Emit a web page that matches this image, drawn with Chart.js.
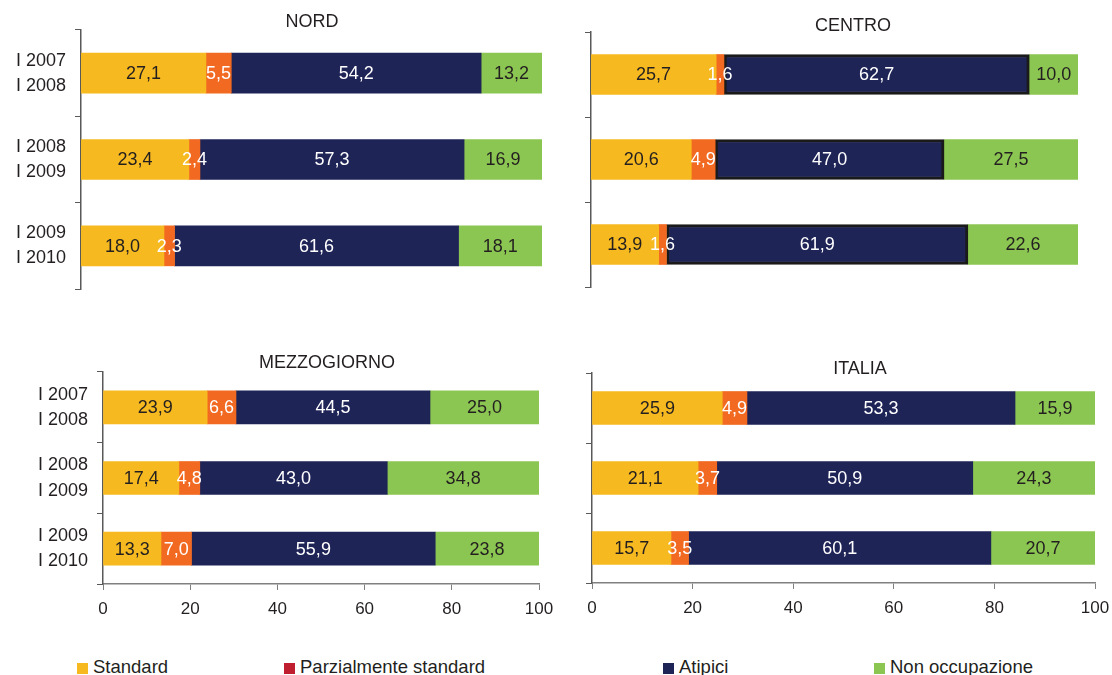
<!DOCTYPE html>
<html lang="it">
<head>
<meta charset="UTF-8">
<title>Esiti occupazionali per ripartizione</title>
<script src="https://cdn.jsdelivr.net/npm/chart.js"></script>
<style>
  body { margin: 0; background: #fff; font-family: 'Liberation Sans', Arial, sans-serif; }
  #wrap { position: relative; width: 1112px; height: 675px; overflow: hidden; }
  .panel { position: absolute; }
  .title { position: absolute; font-size: 18px; color: #231f20; transform: translate(-50%, -50%); white-space: nowrap; }
  .legend-item { position: absolute; top: 656px; font-size: 18.5px; color: #231f20; white-space: nowrap; line-height: 21px; }
  .legend-item span { display: inline-block; width: 11px; height: 11px; margin-right: 5px; vertical-align: -1px; }
</style>
</head>
<body>
<div id="wrap"></div>

<script>
// --- data ---
const categories = [['I 2007', 'I 2008'], ['I 2008', 'I 2009'], ['I 2009', 'I 2010']];
const seriesNames = ['Standard', 'Parzialmente standard', 'Atipici', 'Non occupazione'];
const xTicks = [0, 20, 40, 60, 80, 100];

const nordStandard = [27.1, 23.4, 18.0];
const nordParziale = [5.5, 2.4, 2.3];
const nordAtipici  = [54.2, 57.3, 61.6];
const nordNonOcc   = [13.2, 16.9, 18.1];

const centroStandard = [25.7, 20.6, 13.9];
const centroParziale = [1.6, 4.9, 1.6];
const centroAtipici  = [62.7, 47.0, 61.9];
const centroNonOcc   = [10.0, 27.5, 22.6];

const mezzStandard = [23.9, 17.4, 13.3];
const mezzParziale = [6.6, 4.8, 7.0];
const mezzAtipici  = [44.5, 43.0, 55.9];
const mezzNonOcc   = [25.0, 34.8, 23.8];

const italiaStandard = [25.9, 21.1, 15.7];
const italiaParziale = [4.9, 3.7, 3.5];
const italiaAtipici  = [53.3, 50.9, 60.1];
const italiaNonOcc   = [15.9, 24.3, 20.7];

// --- styles ---
const barColors = ['#f6b91f', '#f26a21', '#1f2457', '#8cc652'];
const legendColors = ['#f6b91f', '#be1e2d', '#1f2457', '#8cc652'];
const labelColors = ['#231f20', '#ffffff', '#ffffff', '#231f20'];
const FONT = "'Liberation Sans', Arial, sans-serif";

Chart.defaults.font.family = FONT;
Chart.defaults.color = '#231f20';

const wrap = document.getElementById('wrap');

// value labels in the middle of each segment
const valueLabels = {
  id: 'valueLabels',
  afterDatasetsDraw(chart) {
    const ctx = chart.ctx;
    ctx.save();
    ctx.font = '18px ' + FONT;
    ctx.textAlign = 'center';
    ctx.textBaseline = 'middle';
    chart.data.datasets.forEach((ds, i) => {
      chart.getDatasetMeta(i).data.forEach((bar, j) => {
        ctx.fillStyle = labelColors[i];
        ctx.fillText(ds.data[j].toFixed(1).replace('.', ','), (bar.x + bar.base) / 2, bar.y + 1);
      });
    });
    ctx.restore();
  }
};

function makePanel(p) {
  const box = document.createElement('div');
  box.className = 'panel';
  box.style.left = p.left + 'px';
  box.style.top = p.top + 'px';
  const canvas = document.createElement('canvas');
  canvas.width = p.width;
  canvas.height = p.height;
  box.appendChild(canvas);
  wrap.appendChild(box);

  const t = document.createElement('div');
  t.className = 'title';
  t.textContent = p.title;
  t.style.left = p.titleX + 'px';
  t.style.top = p.titleY + 'px';
  wrap.appendChild(t);

  new Chart(canvas, {
    type: 'bar',
    data: {
      labels: categories,
      datasets: p.series.map((vals, i) => ({
        label: seriesNames[i],
        data: vals,
        backgroundColor: barColors[i],
        borderWidth: (p.outlineAtipici && i === 2) ? 3 : 0,
        borderColor: '#1a1a1a',
        borderSkipped: false
      }))
    },
    options: {
      indexAxis: 'y',
      responsive: false,
      animation: false,
      devicePixelRatio: 1,
      layout: { padding: { top: p.padTop, right: p.padRight, bottom: p.padBottom, left: 0 } },
      datasets: { bar: { barThickness: p.thickness } },
      plugins: { legend: { display: false }, tooltip: { enabled: false } },
      scales: {
        x: {
          stacked: true,
          min: 0,
          max: 100,
          display: p.showX,
          afterBuildTicks: s => { s.ticks = xTicks.map(v => ({ value: v })); },
          ticks: { font: { size: 17 }, padding: 9, maxRotation: 0 },
          grid: { display: true, drawOnChartArea: false, drawTicks: true, tickLength: 6, color: '#808080' },
          border: { display: true, color: '#808080', width: 1.5 },
          afterFit: s => {
            s.paddingLeft = 0; s.paddingRight = 0;
            if (p.showX) s.height = 42;
          }
        },
        y: {
          stacked: true,
          ticks: { display: p.showLabels, font: { size: 18, lineHeight: 1.4 }, crossAlign: 'center', padding: 9 },
          grid: { display: true, drawOnChartArea: false, drawTicks: true, tickLength: 6, color: '#595959', offset: true },
          border: { display: true, color: '#595959', width: 1.5 },
          afterFit: s => { s.width = p.axisWidth; s.paddingTop = 0; s.paddingBottom = 0; }
        }
      }
    },
    plugins: [valueLabels]
  });
}

makePanel({
  title: 'NORD', titleX: 312, titleY: 21,
  left: 0, top: 0, width: 570, height: 300,
  axisWidth: 81, padTop: 30, padRight: 28, padBottom: 11,
  thickness: 40, showLabels: true, showX: false,
  series: [nordStandard, nordParziale, nordAtipici, nordNonOcc]
});

makePanel({
  title: 'CENTRO', titleX: 853, titleY: 25,
  left: 560, top: 0, width: 552, height: 300,
  axisWidth: 31, padTop: 32, padRight: 34, padBottom: 13,
  thickness: 40, showLabels: false, showX: false, outlineAtipici: true,
  series: [centroStandard, centroParziale, centroAtipici, centroNonOcc]
});

makePanel({
  title: 'MEZZOGIORNO', titleX: 327, titleY: 362,
  left: 0, top: 340, width: 570, height: 300,
  axisWidth: 103, padTop: 32, padRight: 31, padBottom: 14,
  thickness: 33, showLabels: true, showX: true,
  series: [mezzStandard, mezzParziale, mezzAtipici, mezzNonOcc]
});

makePanel({
  title: 'ITALIA', titleX: 860, titleY: 368,
  left: 560, top: 340, width: 552, height: 300,
  axisWidth: 32, padTop: 33, padRight: 17, padBottom: 15,
  thickness: 33, showLabels: false, showX: true,
  series: [italiaStandard, italiaParziale, italiaAtipici, italiaNonOcc]
});

// legend
const legendX = [77, 284, 663, 874];
seriesNames.forEach((name, i) => {
  const item = document.createElement('div');
  item.className = 'legend-item';
  item.style.left = legendX[i] + 'px';
  const sw = document.createElement('span');
  sw.style.background = legendColors[i];
  item.appendChild(sw);
  item.appendChild(document.createTextNode(name));
  wrap.appendChild(item);
});
</script>
</body>
</html>
